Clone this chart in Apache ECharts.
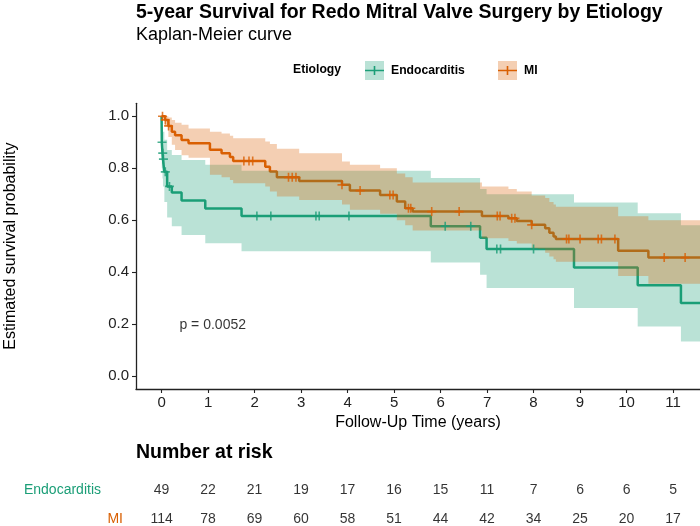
<!DOCTYPE html>
<html>
<head>
<meta charset="utf-8">
<script src="https://cdn.jsdelivr.net/npm/echarts@6/dist/echarts.min.js"></script>
<style>
  html, body { margin: 0; padding: 0; background: #fff; }
  #main { width: 700px; height: 526px; }
</style>
</head>
<body>
<div id="main"></div>
<script>
// ---- data ----
var endoTime  = [0, 0.005, 0.02, 0.03, 0.06, 0.12, 0.22, 0.43, 0.94, 1.72, 5.79, 6.85, 6.99, 8.87, 10.24, 11.17];
var endoSurv  = [1, 0.90, 0.858, 0.835, 0.786, 0.73, 0.707, 0.676, 0.645, 0.616, 0.577, 0.532, 0.489, 0.418, 0.349, 0.281];
var endoUpper = [1, 0.98, 0.96, 0.94, 0.91, 0.87, 0.851, 0.832, 0.813, 0.79, 0.762, 0.72, 0.70, 0.668, 0.627, 0.58];
var endoLower = [1, 0.80, 0.76, 0.73, 0.67, 0.61, 0.577, 0.543, 0.511, 0.48, 0.437, 0.39, 0.339, 0.262, 0.191, 0.133];
var endoCensor = [0.01, 0.025, 0.04, 0.08, 0.17, 2.05, 2.35, 3.32, 3.39, 4.03, 6.1, 6.65, 7.21, 7.29, 8.0];

var miTime  = [0, 0.075, 0.146, 0.22, 0.29, 0.43, 0.58, 1.04, 1.29, 1.47, 1.54, 2.23, 2.33, 2.48, 2.96, 3.88, 4.05, 4.70, 5.06, 5.24, 5.40, 6.89, 7.46, 7.64, 7.96, 8.25, 8.34, 8.43, 8.48, 9.82, 10.47];
var miSurv  = [1, 0.986, 0.963, 0.94, 0.927, 0.909, 0.896, 0.871, 0.858, 0.843, 0.828, 0.806, 0.787, 0.765, 0.751, 0.736, 0.714, 0.697, 0.672, 0.646, 0.633, 0.616, 0.607, 0.597, 0.582, 0.569, 0.552, 0.537, 0.528, 0.482, 0.456];
var miUpper = [1, 1, 0.995, 0.986, 0.975, 0.967, 0.953, 0.94, 0.934, 0.925, 0.915, 0.903, 0.893, 0.875, 0.858, 0.826, 0.813, 0.80, 0.78, 0.765, 0.745, 0.73, 0.72, 0.71, 0.695, 0.685, 0.67, 0.66, 0.652, 0.615, 0.60];
var miLower = [1, 0.96, 0.92, 0.89, 0.87, 0.85, 0.84, 0.775, 0.765, 0.755, 0.742, 0.73, 0.71, 0.691, 0.678, 0.66, 0.64, 0.625, 0.60, 0.58, 0.56, 0.53, 0.52, 0.51, 0.49, 0.475, 0.46, 0.45, 0.44, 0.385, 0.355];
var miCensor = [0.02, 0.08, 0.15, 1.77, 1.88, 1.96, 2.73, 2.81, 2.89, 3.88, 4.27, 4.91, 4.98, 5.31, 5.36, 5.81, 6.40, 7.22, 7.28, 7.53, 7.60, 7.96, 8.71, 8.76, 9.0, 9.39, 9.46, 9.75, 10.81, 11.26];

var maxFollowUp = 12;

var riskTime = [0, 1, 2, 3, 4, 5, 6, 7, 8, 9, 10, 11];
var endoRisk = [49, 22, 21, 19, 17, 16, 15, 11, 7, 6, 6, 5];
var miRisk   = [114, 78, 69, 60, 58, 51, 44, 42, 34, 25, 20, 17];

var xTicks = [0, 1, 2, 3, 4, 5, 6, 7, 8, 9, 10, 11];
var yTicks = [0, 0.2, 0.4, 0.6, 0.8, 1.0];

var pText = 'p = 0.0052';
var pPos = [1.1, 0.195];

var GREEN = '#1b9e77';
var ORANGE = '#d95f02';
var FONT = "'Liberation Sans', Arial, sans-serif";
var PLUS = 'path://M-0.9,-5H0.9V5H-0.9Z M-5,-0.9H5V0.9H-5Z';
var KEY = 'path://M0,0 M19,19 M0,8.7H19V10.3H0Z M8.7,5H10.3V14H8.7Z';

// ---- helpers ----
function stepData(t, s) {
    var d = [];
    for (var i = 0; i < t.length; i++) d.push([t[i], s[i]]);
    d.push([maxFollowUp, s[s.length - 1]]);
    return d;
}
function survAt(t, s, x) {
    var v = s[0];
    for (var i = 0; i < t.length; i++) if (t[i] <= x) v = s[i];
    return v;
}
function censorData(c, t, s) {
    return c.map(function (x) { return [x, survAt(t, s, x)]; });
}
function riskData(name, arr) {
    return riskTime.map(function (t, i) { return [t, name, arr[i]]; });
}

// confidence band as one step polygon (upper edge, then lower edge back)
function bandSeries(name, t, lo, up, color) {
    return {
        type: 'custom', name: name, silent: true, clip: true, z: 3,
        data: [[0, 0]],
        renderItem: function (params, api) {
            var pts = [], i, next;
            for (i = 0; i < t.length; i++) {
                next = i < t.length - 1 ? t[i + 1] : maxFollowUp;
                pts.push(api.coord([t[i], up[i]]));
                pts.push(api.coord([next, up[i]]));
            }
            for (i = t.length - 1; i >= 0; i--) {
                next = i < t.length - 1 ? t[i + 1] : maxFollowUp;
                pts.push(api.coord([next, lo[i]]));
                pts.push(api.coord([t[i], lo[i]]));
            }
            return { type: 'polygon', shape: { points: pts }, style: { fill: color } };
        }
    };
}

var myChart = echarts.init(document.getElementById('main'));

var option = {
    backgroundColor: '#fff',
    animation: false,
    textStyle: { fontFamily: FONT },
    title: [{
        text: '5-year Survival for Redo Mitral Valve Surgery by Etiology',
        subtext: 'Kaplan-Meier curve',
        left: 136, top: 3, padding: 0, itemGap: 3,
        textStyle: { fontSize: 19.5, fontWeight: 'bold', color: '#000', fontFamily: FONT },
        subtextStyle: { fontSize: 18, color: '#000', fontFamily: FONT }
    }, {
        text: 'Number at risk',
        left: 136, top: 443, padding: 0,
        textStyle: { fontSize: 19.5, fontWeight: 'bold', color: '#000', fontFamily: FONT }
    }],
    legend: [{
        data: ['Endocarditis'], left: 365, top: 61, padding: 0,
        itemWidth: 19, itemHeight: 19, icon: KEY,
        textStyle: { fontSize: 12.2, fontWeight: 'bold', color: '#000', padding: [0, 0, 0, 2] }
    }, {
        data: ['MI'], left: 498, top: 61, padding: 0,
        itemWidth: 19, itemHeight: 19, icon: KEY,
        textStyle: { fontSize: 12.2, fontWeight: 'bold', color: '#000', padding: [0, 0, 0, 2] }
    }],
    graphic: [
        { type: 'text', left: 293, top: 64, style: { text: 'Etiology', font: 'bold 12.2px ' + FONT, fill: '#000' } },
        { type: 'rect', shape: { x: 365, y: 61, width: 19, height: 19 }, style: { fill: 'rgba(27,158,119,0.3)' }, z: -1 },
        { type: 'rect', shape: { x: 498, y: 61, width: 19, height: 19 }, style: { fill: 'rgba(217,95,2,0.3)' }, z: -1 }
    ],
    grid: [
        { left: 136, right: 0, top: 103.3, bottom: 137, outerBoundsMode: 'none' },
        { left: 136, right: 0, top: 490, bottom: 7, outerBoundsMode: 'none' }
    ],
    xAxis: [{
        type: 'value', gridIndex: 0, min: -0.55, max: 11.58,
        name: 'Follow-Up Time (years)', nameLocation: 'middle', nameGap: 24,
        nameTextStyle: { fontSize: 16, color: '#000' },
        axisLine: { onZero: false, lineStyle: { color: '#222', width: 1.3 } },
        axisTick: { length: 4, customValues: xTicks, lineStyle: { color: '#222', width: 1.1 } },
        axisLabel: { customValues: xTicks, fontSize: 15, color: '#222', margin: 6 },
        splitLine: { show: false }
    }, {
        type: 'value', gridIndex: 1, min: -0.55, max: 11.58, show: false
    }],
    yAxis: [{
        type: 'value', gridIndex: 0, min: -0.05, max: 1.05,
        name: 'Estimated survival probability', nameLocation: 'middle', nameGap: 117,
        nameTextStyle: { fontSize: 16, color: '#000' },
        axisLine: { show: true, onZero: false, lineStyle: { color: '#222', width: 1.3 } },
        axisTick: { show: true, length: 4, customValues: yTicks, lineStyle: { color: '#222', width: 1.1 } },
        axisLabel: {
            customValues: yTicks, fontSize: 15, color: '#222', margin: 7,
            formatter: function (v) { return v.toFixed(1); }
        },
        splitLine: { show: false }
    }, {
        type: 'category', gridIndex: 1, data: ['MI', 'Endocarditis'], boundaryGap: false,
        axisLine: { show: false }, axisTick: { show: false }, splitLine: { show: false },
        axisLabel: {
            margin: 13,
            formatter: function (v) { return v === 'MI' ? '{m|' + v + '}' : '{e|' + v + '}'; },
            rich: {
                e: { color: GREEN, fontSize: 14, fontFamily: FONT, padding: [0, 22, 0, 0] },
                m: { color: ORANGE, fontSize: 14, fontFamily: FONT }
            }
        }
    }],
    series: [
        {
            type: 'line', name: 'Endocarditis', step: 'end', data: stepData(endoTime, endoSurv),
            showSymbol: false, color: GREEN, lineStyle: { width: 2.5, color: GREEN }, z: 2
        },
        {
            type: 'line', name: 'MI', step: 'end', data: stepData(miTime, miSurv),
            showSymbol: false, color: ORANGE, lineStyle: { width: 2.5, color: ORANGE }, z: 2
        },
        bandSeries('endoBand', endoTime, endoLower, endoUpper, 'rgba(27,158,119,0.3)'),
        bandSeries('miBand', miTime, miLower, miUpper, 'rgba(217,95,2,0.3)'),
        {
            type: 'scatter', name: 'endoCensor', data: censorData(endoCensor, endoTime, endoSurv),
            symbol: PLUS, symbolSize: 9, itemStyle: { color: GREEN }, z: 4, silent: true
        },
        {
            type: 'scatter', name: 'miCensor', data: censorData(miCensor, miTime, miSurv),
            symbol: PLUS, symbolSize: 9, itemStyle: { color: ORANGE }, z: 4, silent: true
        },
        {
            type: 'scatter', name: 'pval', data: [pPos], symbolSize: 1,
            itemStyle: { color: 'transparent' }, silent: true,
            label: { show: true, position: 'inside', formatter: pText, fontSize: 14, color: '#000' }
        },
        {
            type: 'scatter', name: 'riskEndo', xAxisIndex: 1, yAxisIndex: 1,
            data: riskData('Endocarditis', endoRisk), symbolSize: 1,
            itemStyle: { color: 'transparent' }, silent: true,
            label: { show: true, position: 'inside', fontSize: 14, color: '#000',
                formatter: function (p) { return p.value[2]; } }
        },
        {
            type: 'scatter', name: 'riskMI', xAxisIndex: 1, yAxisIndex: 1,
            data: riskData('MI', miRisk), symbolSize: 1,
            itemStyle: { color: 'transparent' }, silent: true,
            label: { show: true, position: 'inside', fontSize: 14, color: '#000',
                formatter: function (p) { return p.value[2]; } }
        }
    ]
};

myChart.setOption(option);
</script>
</body>
</html>
